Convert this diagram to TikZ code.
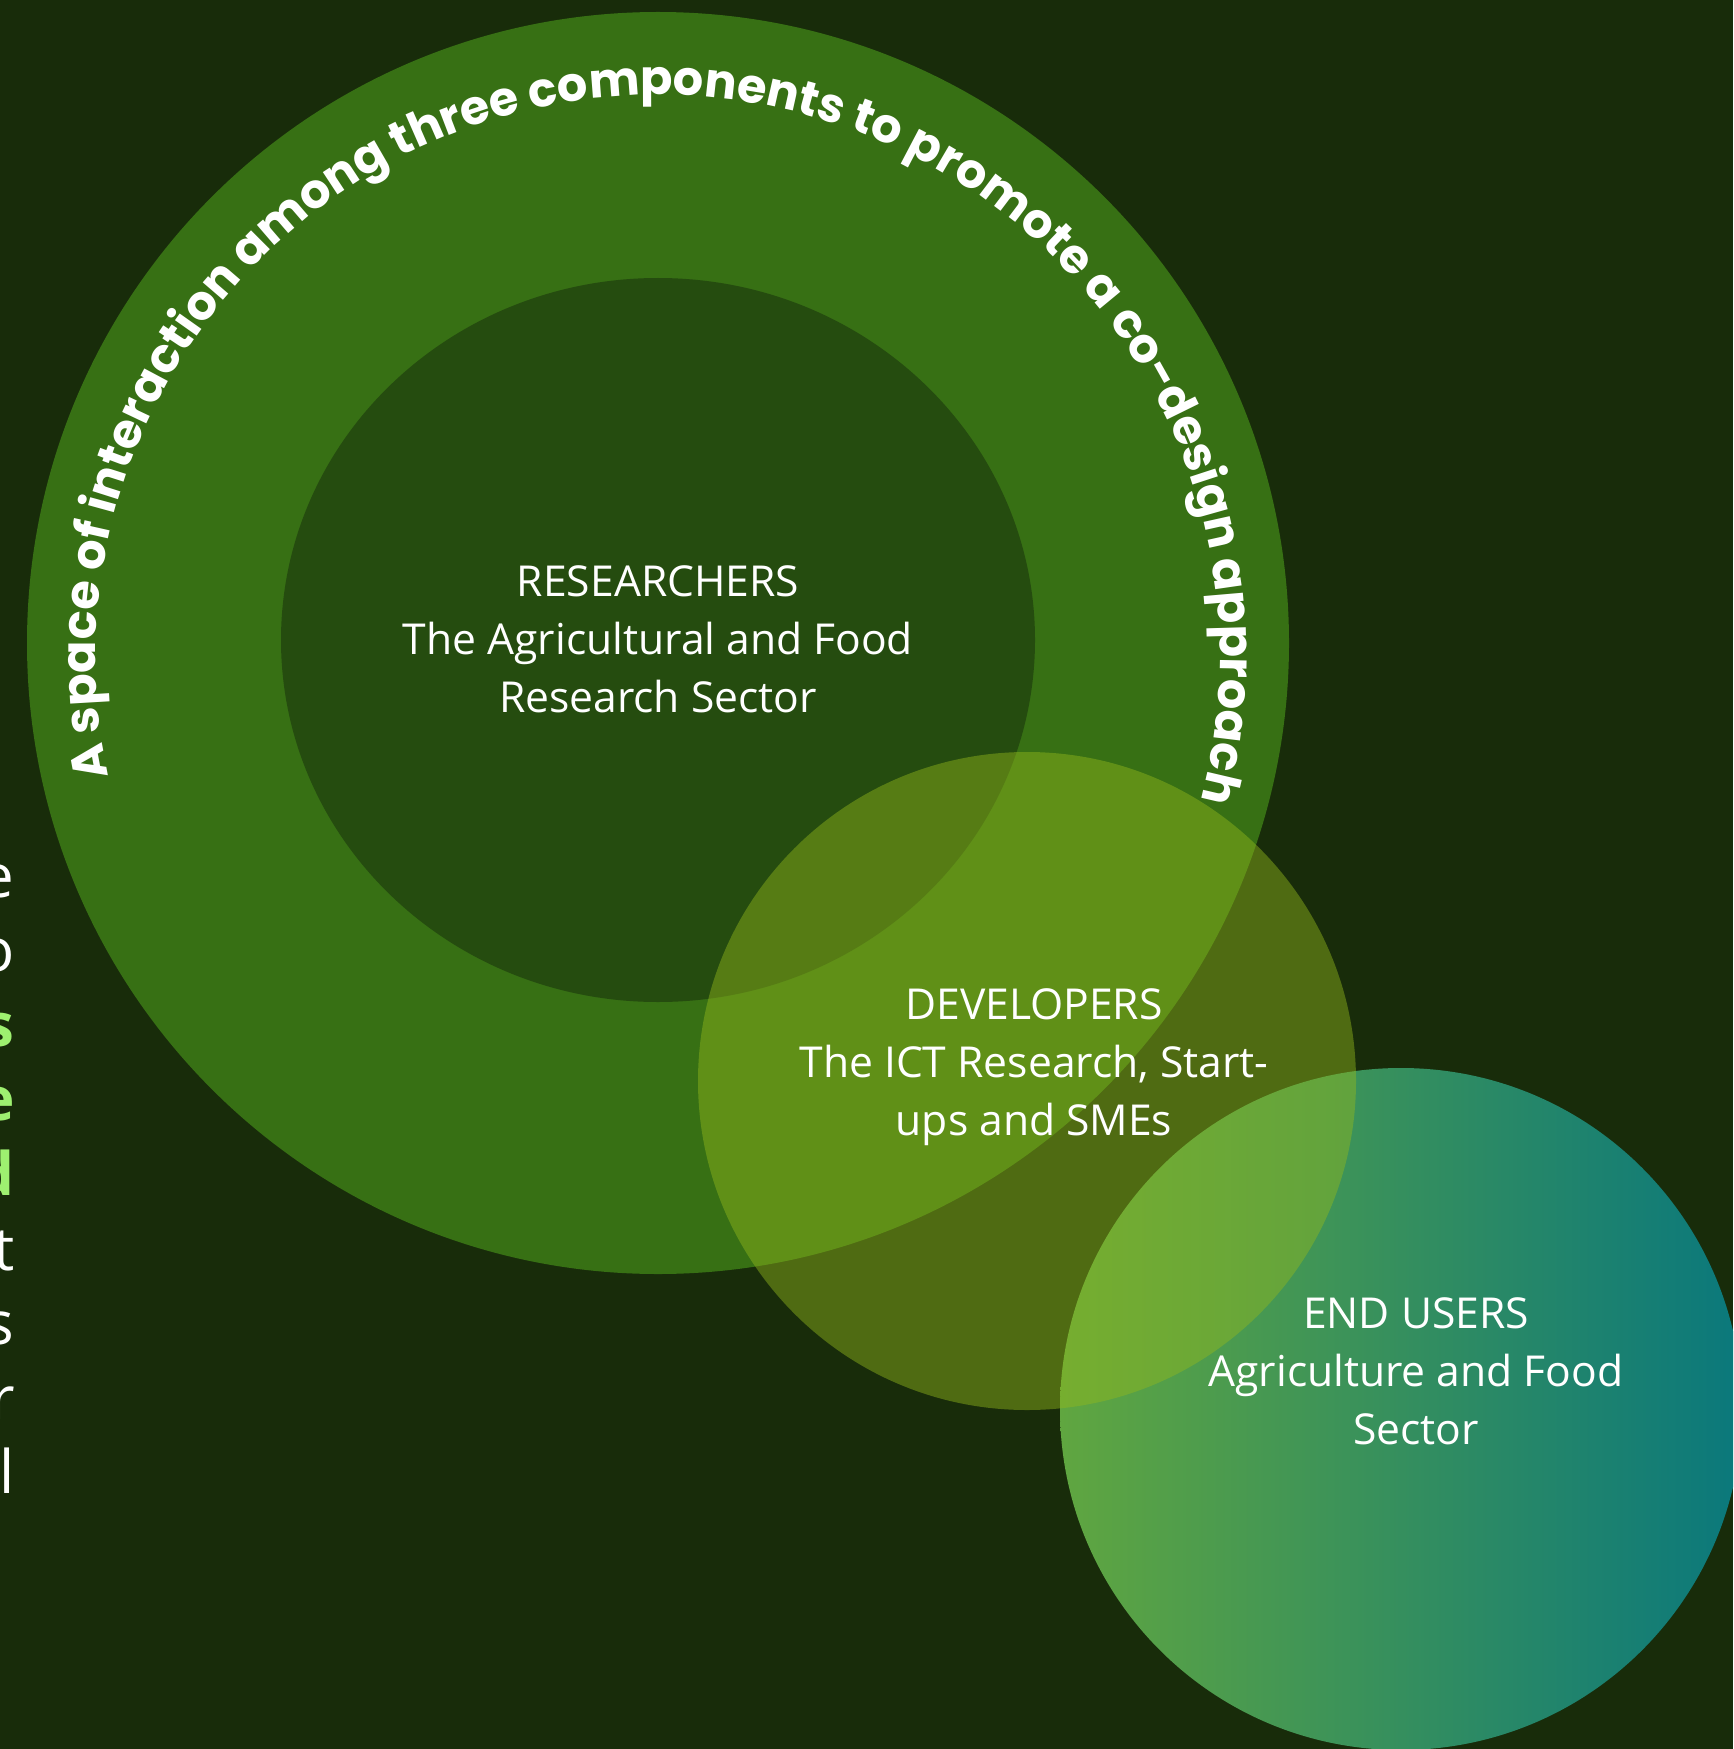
\documentclass[tikz,border=0pt]{standalone}
\usepackage{fontspec}
\setmainfont{Open Sans}
\newfontfamily\popf{Poppins}
\usetikzlibrary{decorations.text}
\definecolor{bgc}{RGB}{24,44,10}
\definecolor{bigc}{RGB}{55,112,20}
\definecolor{innerc}{RGB}{37,76,15}
\definecolor{devc}{RGB}{146,184,28}
\definecolor{eua}{RGB}{96,166,64}
\definecolor{eub}{RGB}{44,140,98}
\definecolor{euc}{RGB}{10,120,124}
\definecolor{lgreen}{RGB}{158,240,112}
\tikzset{
  lbl/.style={align=center, text=white, inner sep=0pt, font=\fontsize{21.3}{29}\selectfont},
  frag/.style={anchor=base east, inner sep=0pt, text=white, font=\fontsize{30}{30}\selectfont},
  fragb/.style={frag, text=lgreen, font=\bfseries\fontsize{30}{30}\selectfont}
}
\begin{document}
\begin{tikzpicture}[x=0.5pt,y=0.5pt]
\useasboundingbox (0,0) rectangle (1733,-1749);
\clip (0,0) rectangle (1733,-1749);
\fill[bgc] (0,0) rectangle (1733,-1749);
% circles
\fill[bigc] (658,-643) circle [radius=631];
\fill[innerc] (658,-640) ellipse [x radius=377, y radius=362];
\shade[left color=eua, middle color=eub, right color=euc] (1401,-1409) circle [radius=341];
\fill[devc, opacity=0.45] (1027,-1081) circle [radius=329];
% curved title
\path[decorate, decoration={text along path, text color=white, text align={fit to path},
  text={|\popf\bfseries\fontsize{23.9}{24}\selectfont|A space of interaction among three components to promote a co-design approach}}]
  (658,-657) ++(192.3:562) arc [start angle=192.3, end angle=-13.9, radius=562];
% labels
\node[lbl] (researchers) at (658,-639) {RESEARCHERS\\The Agricultural and Food\\Research Sector};
\node[lbl] (developers) at (1034,-1067) {DEVELOPERS\\The ICT Research, Start-\\ups and SMEs};
\node[lbl] (endusers) at (1416,-1371) {END USERS\\Agriculture and Food\\Sector};
% cut-off paragraph at the left edge
\node[frag]  (f1) at (15,-897) {e};
\node[frag]  (f2) at (15,-971.6) {o};
\node[fragb] (f3) at (15,-1046.2) {s};
\node[fragb] (f4) at (15,-1120.8) {e};
\node[fragb] (f5) at (15,-1195.4) {d};
\node[frag]  (f6) at (15,-1270) {t};
\node[frag]  (f7) at (15,-1344.6) {s};
\node[frag]  (f8) at (15,-1419.2) {r};
\node[frag]  (f9) at (15,-1493.8) {l};
\end{tikzpicture}
\end{document}
